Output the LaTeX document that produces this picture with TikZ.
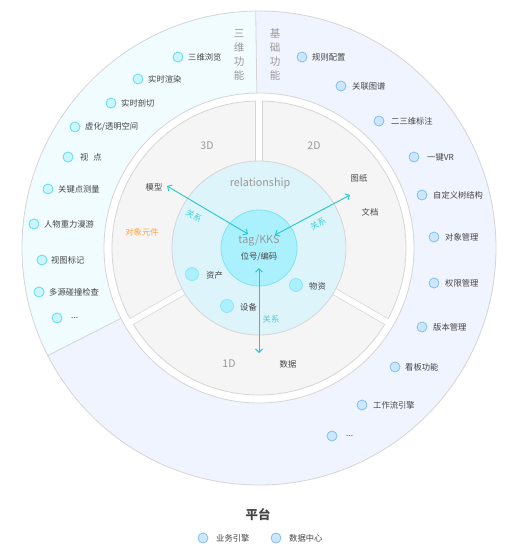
\documentclass[tikz,border=0pt]{standalone}
\usepackage{fontspec}
\setmainfont{Noto Sans CJK SC}
\usetikzlibrary{arrows.meta}
\definecolor{ringL}{HTML}{F0FCFF}
\definecolor{ringR}{HTML}{F0F4FF}
\definecolor{lineG}{HTML}{D5D5D5}
\definecolor{secG}{HTML}{F5F5F5}
\definecolor{relB}{HTML}{DDF4FB}
\definecolor{tagC}{HTML}{ABF0FD}
\definecolor{tagE}{HTML}{7FE2F5}
\definecolor{arrC}{HTML}{22C6CF}
\definecolor{relT}{HTML}{40D0DA}
\definecolor{txtC}{HTML}{444444}
\definecolor{lblC}{HTML}{999999}
\definecolor{dotCf}{HTML}{CCF6FD}
\definecolor{dotCe}{HTML}{5FDCEE}
\definecolor{dotBf}{HTML}{CDE7FF}
\definecolor{dotBe}{HTML}{7DBEF5}
\definecolor{orngC}{HTML}{F7A540}
\begin{document}
\begin{tikzpicture}[x=1pt,y=-1pt,
  item/.style={font=\fontsize{8.3}{10}\selectfont, text=txtC, anchor=west, inner sep=0pt},
  lbl/.style={font=\fontsize{8.3}{10}\selectfont, text=txtC, inner sep=0pt},
  dotc/.style={circle, draw=dotCe, fill=dotCf, line width=0.8pt, minimum size=10pt, inner sep=0pt},
  dotb/.style={circle, draw=dotBe, fill=dotBf, line width=0.8pt, minimum size=10pt, inner sep=0pt},
  dotm/.style={circle, draw=tagE, fill=tagC, line width=0.6pt, minimum size=13pt, inner sep=0pt},
  dimlbl/.style={font=\fontsize{10.5}{12}\selectfont, text=lblC, inner sep=0pt},
  vertlbl/.style={font=\fontsize{10.5}{14}\selectfont, text=lblC, align=center, inner sep=0pt},
  relarrow/.style={draw=arrC, line width=0.9pt, {Straight Barb[length=3.5pt,width=7pt]}-{Straight Barb[length=3.5pt,width=7pt]}},
  rellbl/.style={font=\fontsize{8.3}{10}\selectfont, text=relT, inner sep=0pt},
]
\path[use as bounding box, fill=white] (0,0) rectangle (523,555);
\coordinate (C) at (259,248);
\begin{scope}[shift={(C)}, x=1pt, y=1pt]
  % outer ring
  \fill[ringR] (0,0) circle[radius=237];
  \fill[ringL] (0,0) -- (90.8:237) arc[start angle=90.8, end angle=207, radius=237] -- cycle;
  \draw[lineG, line width=0.8pt] (0,0) circle[radius=237];
  \fill[white] (0,0) circle[radius=155];
  \draw[lineG, line width=0.8pt] (0,0) circle[radius=155];
  \draw[lineG, line width=0.8pt] (90.8:155) -- (90.8:237);
  \draw[lineG, line width=0.8pt] (207:155) -- (207:237);
  % middle sectors
  \fill[secG] (0,0) circle[radius=147];
  \draw[lineG, line width=0.8pt] (0,0) circle[radius=147];
  \foreach \a in {90,210,330} {
    \draw[lineG, line width=7.2pt] (0,0) -- (\a:147.2);
    \draw[white, line width=5.8pt] (0,0) -- (\a:150);
  }
  % relationship circle
  \filldraw[fill=relB, draw=lineG, line width=0.8pt] (0,0) circle[radius=87];
  % tag circle
  \filldraw[fill=tagC, draw=tagE, line width=0.8pt] (0,0) circle[radius=38];
\end{scope}

% vertical titles
\node[vertlbl] (t3) at (239,55) {三\\维\\功\\能};
\node[vertlbl] (tb) at (275,55) {基\\础\\功\\能};

% left items
\node[dotc] (ld1) at (178,57) {};  \node[item] (lt1) at (188,57) {三维浏览};
\node[dotc] (ld2) at (138,79) {};  \node[item] (lt2) at (148,79) {实时渲染};
\node[dotc] (ld3) at (111,103) {}; \node[item] (lt3) at (121,103) {实时剖切};
\node[dotc] (ld4) at (75,127) {};  \node[item] (lt4) at (85,127) {虚化/透明空间};
\node[dotc] (ld5) at (68,157) {};  \node[item] (lt5) at (80,157) {视\hspace{5pt}点};
\node[dotc] (ld6) at (48,189) {};  \node[item] (lt6) at (58,189) {关键点测量};
\node[dotc] (ld7) at (34,224) {};  \node[item] (lt7) at (44,224) {人物重力漫游};
\node[dotc] (ld8) at (42,260) {};  \node[item] (lt8) at (51,260) {视图标记};
\node[dotc] (ld9) at (39,292) {};  \node[item] (lt9) at (49,292) {多源碰撞检查};
\node[dotc] (ld10) at (57,318) {}; \node[item] (lt10) at (71,318) {...};

% right items
\node[dotb] (rd1) at (302,57) {};  \node[item] (rt1) at (312,57) {规则配置};
\node[dotb] (rd2) at (341,86) {};  \node[item] (rt2) at (352,86) {关联图谱};
\node[dotb] (rd3) at (379,121) {}; \node[item] (rt3) at (391,121) {二三维标注};
\node[dotb] (rd4) at (414,157) {}; \node[item] (rt4) at (427,157) {一键VR};
\node[dotb] (rd5) at (422,195) {}; \node[item] (rt5) at (433,195) {自定义树结构};
\node[dotb] (rd6) at (434,237) {}; \node[item] (rt6) at (445,237) {对象管理};
\node[dotb] (rd7) at (434,283) {}; \node[item] (rt7) at (445,283) {权限管理};
\node[dotb] (rd8) at (422,327) {}; \node[item] (rt8) at (433,327) {版本管理};
\node[dotb] (rd9) at (395,367) {}; \node[item] (rt9) at (405,367) {看板功能};
\node[dotb] (rd10) at (362,405) {}; \node[item] (rt10) at (373,405) {工作流引擎};
\node[dotb] (rd11) at (332,436) {}; \node[item] (rt11) at (346,436) {...};

% sector labels
\node[dimlbl] (d3) at (207,146) {3D};
\node[dimlbl] (d2) at (314,146) {2D};
\node[dimlbl] (d1) at (229,364) {1D};
\node[lbl] (mx) at (154,187) {模型};
\node[lbl] (tz) at (359,178) {图纸};
\node[lbl] (wd) at (370,212) {文档};
\node[lbl, text=orngC] (dx) at (142,232) {对象元件};
\node[lbl] (sj) at (288,364) {数据};

% relationship circle content
\node[font=\fontsize{10.8}{12}\selectfont, text=lblC, inner sep=0pt] (rs) at (260,183) {relationship};
\node[font=\fontsize{10.8}{12}\selectfont, text=lblC, inner sep=0pt] (tag) at (259,241) {tag/KKS};
\node[lbl] (wh) at (259,257) {位号/编码};
\node[dotm] (zd) at (192,274) {}; \node[item] (zt) at (206,275) {资产};
\node[dotm] (sd) at (227,306) {}; \node[item] (st) at (240,307) {设备};
\node[dotm] (wzd) at (296,285) {}; \node[item] (wzt) at (309,286) {物资};

% relation arrows
\coordinate (a1s) at (167,186); \coordinate (a1e) at (248,234);
\coordinate (a2s) at (275,235); \coordinate (a2e) at (350,195);
\coordinate (a3s) at (259,268); \coordinate (a3e) at (259,353);
\draw[relarrow] (a1s) -- (a1e);
\draw[relarrow] (a2s) -- (a2e);
\draw[relarrow] (a3s) -- (a3e);
\node[rellbl, rotate=-30] (r1) at (194,216) {关系};
\node[rellbl, rotate=30] (r2) at (318,224) {关系};
\node[rellbl] (r3) at (271,319) {关系};

% legend
\node[font=\fontsize{12.5}{14}\selectfont\bfseries, text=txtC, inner sep=0pt] (pt) at (258,515) {平台};
\node[dotb] (g1) at (203,538) {}; \node[item] (g1t) at (216,538) {业务引擎};
\node[dotb] (g2) at (276,538) {}; \node[item] (g2t) at (289,538) {数据中心};
\end{tikzpicture}
\end{document}
